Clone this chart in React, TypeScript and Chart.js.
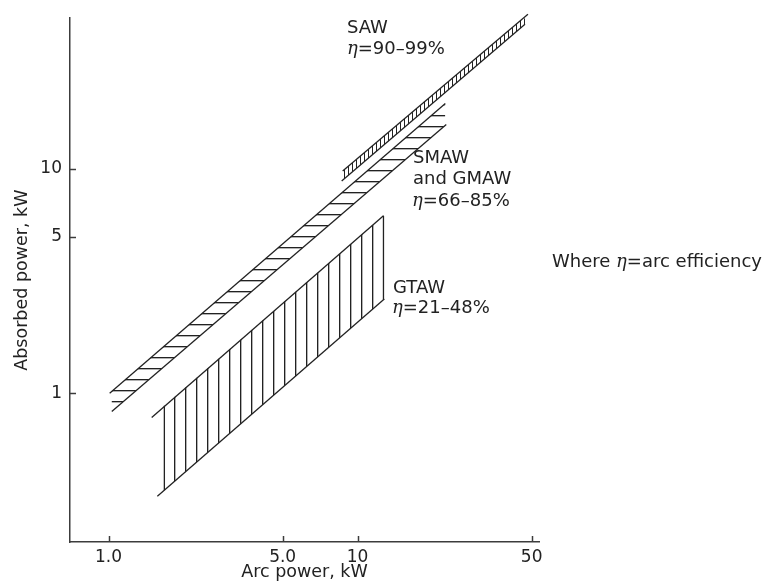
import React, { useEffect, useRef } from 'react';
import { Chart, registerables } from 'chart.js';

Chart.register(...registerables);

// ---- axes ----
const xTicks = [1, 5, 10, 50];
const xTickLabels = ['1.0', '5.0', '10', '50'];
const yTicks = [1, 5, 10];
const yTickLabels = ['1', '5', '10'];
const xRange = [0.711, 53.5];
const yRange = [0.217, 47.1];
const xTitle = 'Arc power, kW';
const yTitle = 'Absorbed power, kW';

// ---- bands (arc power kW -> absorbed power kW) ----
const sawUpperX = [8.71, 48.3];
const sawUpperY = [9.8, 49.0];
const sawLowerX = [8.63, 47.0];
const sawLowerY = [8.85, 44.3];

const smawUpperX = [1.01, 22.5];
const smawUpperY = [1.0, 19.6];
const smawLowerX = [1.03, 22.7];
const smawLowerY = [0.83, 15.8];

const gtawUpperX = [1.49, 12.7];
const gtawUpperY = [0.78, 6.19];
const gtawLowerX = [1.57, 12.8];
const gtawLowerY = [0.347, 2.63];
const gtawEdgeX = [1.675, 12.7];
const gtawEdgeTopY = [0.879, 6.19];
const gtawEdgeBottomY = [0.369, 2.61];

// ---- annotation texts ----
const labelLines: { x: number; y: number; parts: [string, boolean][] }[] = [
  { x: 347, y: 33, parts: [['SAW', false]] },
  { x: 347, y: 53.5, parts: [['η', true], ['=90–99%', false]] },
  { x: 413, y: 163, parts: [['SMAW', false]] },
  { x: 413, y: 184, parts: [['and GMAW', false]] },
  { x: 412, y: 206, parts: [['η', true], ['=66–85%', false]] },
  { x: 393, y: 292.5, parts: [['GTAW', false]] },
  { x: 392, y: 312.5, parts: [['η', true], ['=21–48%', false]] },
  { x: 552, y: 267, parts: [['Where ', false], ['η', true], ['=arc efficiency', false]] },
];

const ink = '#222222';
const axisColor = '#3c3c3c';
const sansFont = '"DejaVu Sans", "Liberation Sans", Arial, sans-serif';

const seg = (xs: number[], ys: number[]) => xs.map((x, i) => ({ x, y: ys[i] }));

function makePattern(w: number, h: number, draw: (g: CanvasRenderingContext2D) => void) {
  const c = document.createElement('canvas');
  c.width = w;
  c.height = h;
  const g = c.getContext('2d')!;
  draw(g);
  return g.createPattern(c, 'repeat')!;
}

const overlay = {
  id: 'overlay',
  afterDraw(chart: any) {
    const { ctx, chartArea, scales } = chart;
    const xs = scales.x;
    const ys = scales.y;
    ctx.save();
    ctx.strokeStyle = axisColor;
    ctx.lineWidth = 1.5;
    xTicks.forEach((v) => {
      const px = Math.round(xs.getPixelForValue(v)) + 0.5;
      ctx.beginPath();
      ctx.moveTo(px, chartArea.bottom);
      ctx.lineTo(px, chartArea.bottom - 6);
      ctx.stroke();
    });
    yTicks.forEach((v) => {
      const py = Math.round(ys.getPixelForValue(v)) + 0.5;
      ctx.beginPath();
      ctx.moveTo(chartArea.left, py);
      ctx.lineTo(chartArea.left + 6, py);
      ctx.stroke();
    });
    ctx.fillStyle = ink;
    ctx.textBaseline = 'alphabetic';
    ctx.textAlign = 'left';
    labelLines.forEach((l) => {
      let x = l.x;
      l.parts.forEach(([t, italic]) => {
        ctx.font = italic ? 'italic 18px "DejaVu Serif", "Liberation Serif", serif' : `18px ${sansFont}`;
        ctx.fillText(t, x, l.y);
        x += ctx.measureText(t).width;
      });
    });
    ctx.restore();
  },
};

export default function App() {
  const ref = useRef<HTMLCanvasElement>(null);
  useEffect(() => {
    const canvas = ref.current!;
    const hPattern = makePattern(8, 11, (g) => {
      g.fillStyle = ink;
      g.fillRect(0, 5, 8, 1);
      g.fillStyle = 'rgba(34,34,34,0.35)';
      g.fillRect(0, 6, 8, 1);
    });
    const vPattern = makePattern(11, 8, (g) => {
      g.fillStyle = ink;
      g.fillRect(9, 0, 1, 8);
      g.fillStyle = 'rgba(34,34,34,0.35)';
      g.fillRect(10, 0, 1, 8);
    });
    const sawPattern = makePattern(4, 4, (g) => {
      g.fillStyle = ink;
      g.fillRect(0, 0, 1, 4);
    });
    const base = { borderColor: ink, borderWidth: 1.3, pointRadius: 0, tension: 0, fill: false as any };
    const chart = new Chart(canvas, {
      type: 'line',
      data: {
        datasets: [
          { ...base, label: 'SAW upper', data: seg(sawUpperX, sawUpperY), fill: '+1', backgroundColor: sawPattern, clip: false },
          { ...base, label: 'SAW lower', data: seg(sawLowerX, sawLowerY), clip: false },
          { ...base, label: 'SMAW upper', data: seg(smawUpperX, smawUpperY), fill: '+1', backgroundColor: hPattern },
          { ...base, label: 'SMAW lower', data: seg(smawLowerX, smawLowerY) },
          { ...base, label: 'GTAW upper', data: seg(gtawUpperX, gtawUpperY) },
          { ...base, label: 'GTAW lower', data: seg(gtawLowerX, gtawLowerY) },
          { ...base, label: 'GTAW hatch top', data: seg(gtawEdgeX, gtawEdgeTopY), borderColor: 'transparent', fill: '+1', backgroundColor: vPattern },
          { ...base, label: 'GTAW hatch bottom', data: seg(gtawEdgeX, gtawEdgeBottomY), borderColor: 'transparent' },
          { ...base, label: 'GTAW left', data: [{ x: gtawEdgeX[0], y: gtawEdgeBottomY[0] }, { x: gtawEdgeX[0], y: gtawEdgeTopY[0] }] },
          { ...base, label: 'GTAW right', data: [{ x: gtawEdgeX[1], y: gtawEdgeBottomY[1] }, { x: gtawEdgeX[1], y: gtawEdgeTopY[1] }] },
        ] as any,
      },
      options: {
        animation: false,
        responsive: false,
        devicePixelRatio: 1,
        layout: { padding: { top: 14, right: 224, left: 0, bottom: 0 } },
        plugins: { legend: { display: false }, tooltip: { enabled: false } },
        scales: {
          x: {
            type: 'logarithmic',
            min: xRange[0],
            max: xRange[1],
            grid: { display: false, drawTicks: false },
            border: { display: true, color: axisColor, width: 1.5 },
            afterBuildTicks: (s: any) => {
              s.ticks = xTicks.map((v) => ({ value: v }));
            },
            afterFit: (s: any) => {
              s.height = 46;
            },
            ticks: {
              autoSkip: false,
              maxRotation: 0,
              padding: 5,
              color: ink,
              font: { family: sansFont, size: 17 },
              callback: (_v: any, i: number) => xTickLabels[i],
            },
            title: {
              display: true,
              text: xTitle,
              color: ink,
              font: { family: sansFont, size: 17.5 },
              padding: { top: 0, bottom: 5.5 },
            },
          },
          y: {
            type: 'logarithmic',
            min: yRange[0],
            max: yRange[1],
            grid: { display: false, drawTicks: false },
            border: { display: true, color: axisColor, width: 1.5 },
            afterBuildTicks: (s: any) => {
              s.ticks = yTicks.map((v) => ({ value: v }));
            },
            afterFit: (s: any) => {
              s.width = 70;
            },
            ticks: {
              autoSkip: false,
              padding: 8,
              color: ink,
              font: { family: sansFont, size: 17 },
              callback: (_v: any, i: number) => yTickLabels[i],
            },
            title: {
              display: true,
              text: yTitle,
              color: ink,
              font: { family: sansFont, size: 17.5 },
              padding: { top: 11.5, bottom: 0 },
            },
          },
        },
      },
      plugins: [overlay],
    });
    return () => chart.destroy();
  }, []);
  return (
    <div style={{ position: 'fixed', left: 0, top: 0, width: 763, height: 588, background: '#fff' }}>
      <canvas ref={ref} width={763} height={588} style={{ width: 763, height: 588, display: 'block' }} />
    </div>
  );
}
